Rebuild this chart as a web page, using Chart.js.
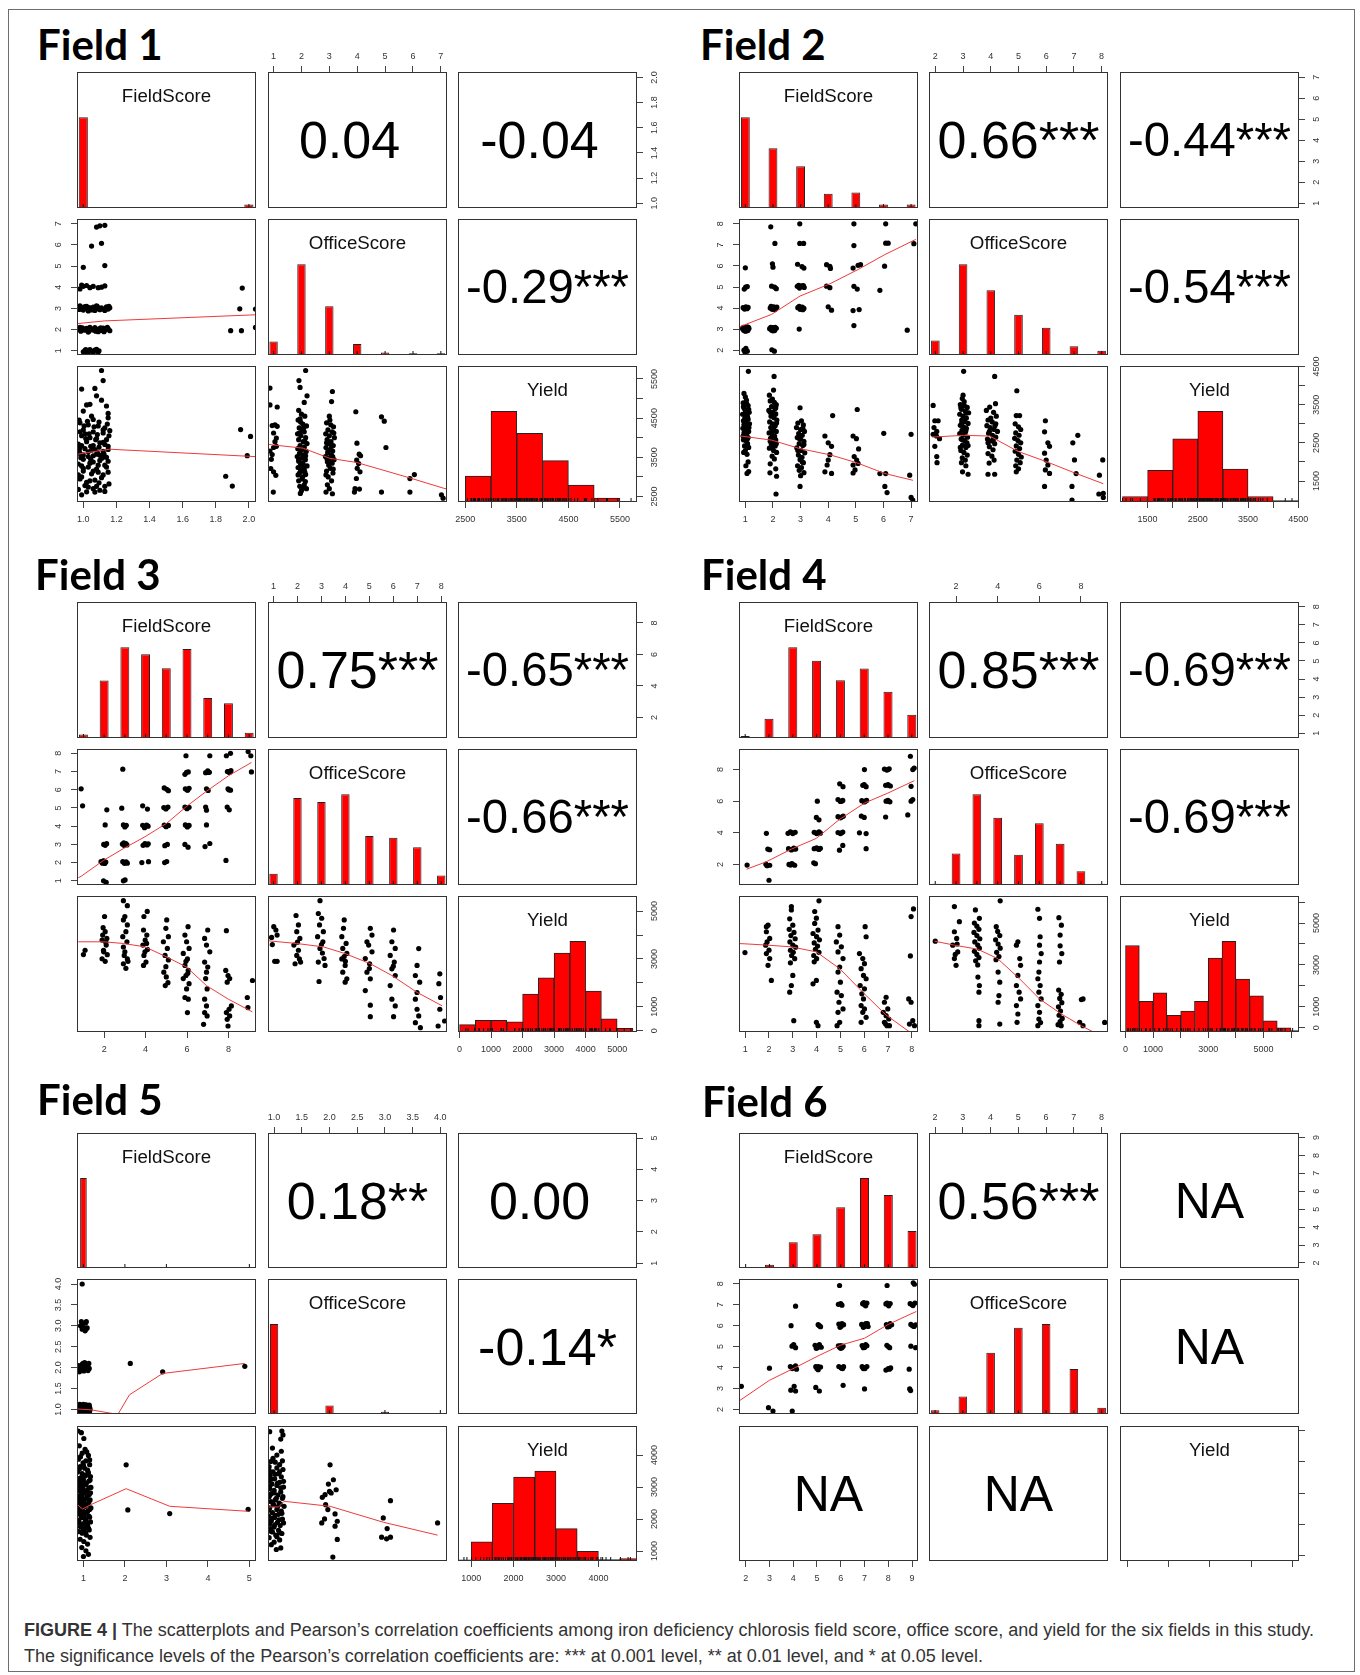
<!DOCTYPE html>
<html>
<head>
<meta charset="utf-8">
<title>Figure 4</title>
<script src="https://cdn.jsdelivr.net/npm/chart.js@4.4.1/dist/chart.umd.min.js"></script>
<style>
  html, body { margin: 0; padding: 0; background: #fff; }
  #stage { position: relative; width: 1360px; height: 1675px; overflow: hidden; background: #fff; }
  #stage canvas { position: absolute; }
  .frame { position: absolute; left: 8px; top: 9px; width: 1347px; height: 1663px; border: 1px solid #6e6e6e; box-sizing: border-box; }
  .title { position: absolute; font: 700 42px/1 Lato, 'Open Sans', sans-serif; color: #000; white-space: nowrap; }
  .corr { position: absolute; display: flex; align-items: center; justify-content: center; font: 52px/1 'Liberation Sans', Arial, sans-serif; color: #000; white-space: nowrap; z-index: 2; box-sizing: border-box; }
  .corr.ns { padding-right: 16px; }
  .dlab { position: absolute; text-align: center; font: 18.7px/1 'Liberation Sans', Arial, sans-serif; color: #111; z-index: 2; }
  .caption { position: absolute; left: 24px; top: 1617px; font: 18px/26px 'Liberation Sans', Arial, sans-serif; color: #333; white-space: nowrap; }
</style>
</head>
<body>
<div id="stage">
  <div class="frame"></div>
  <div class="caption"><b>FIGURE 4 |</b> The scatterplots and Pearson’s correlation coefficients among iron deficiency chlorosis field score, office score, and yield for the six fields in this study.<br>The significance levels of the Pearson’s correlation coefficients are: *** at 0.001 level, ** at 0.01 level, and * at 0.05 level.</div>
</div>
<script>
// ---------- Field 1 ----------
var f1FsLim = [0.962, 2.043], f1OsLim = [0.8, 7.22], f1YLim = [2360, 5830];
var f1FsTicks = [1.0, 1.2, 1.4, 1.6, 1.8, 2.0];
var f1OsTicks = [1, 2, 3, 4, 5, 6, 7];
var f1YTicks = [2500, 3000, 3500, 4000, 4500, 5000, 5500];
var f1YLabBottom = [2500, 3500, 4500, 5500], f1YLabSide = [2500, 3500, 4500, 5500];
var f1FsBars = [1, 2], f1FsCounts = [181, 7], f1FsBin = 0.055;
var f1OsBars = [1, 2, 3, 4, 5, 6, 7], f1OsCounts = [16, 108, 58, 13, 3, 2, 2], f1OsBin = 0.3;
var f1YBins = [2500, 3000, 3500, 4000, 4500, 5000, 5500], f1YCounts = [20, 70, 53, 32, 13, 3];
var f1Corr = ['0.04', '-0.04', '-0.29***'];
var f1FsOs = [[1.08,6.84],[1.10,6.9],[1.13,6.92],[1.05,5.94],[1.11,6.07],[1.0,4.94],[1.13,5.02],
  [0.98,3.92],[1.0,4.04],[1.02,4.08],[1.04,3.98],[1.06,4.04],[1.09,3.98],[1.13,4.06],[0.99,4.1],[1.11,4.0],
  [0.975,2.95],[0.99,3.05],[1.0,2.92],[1.01,3.08],[1.025,2.97],[1.035,3.04],[1.05,2.93],[1.06,3.06],[1.075,2.98],[1.085,3.08],[1.1,2.94],[1.11,3.03],[1.125,2.96],[1.14,3.07],[1.15,2.97],[1.16,3.03],[1.02,3.1],[1.07,2.9],
  [0.98,3.12],[1.03,2.88],[1.08,3.12],[1.13,2.9],[1.155,3.1],[1.045,3.0],[0.995,2.97],[1.095,3.0],
  [0.975,2.02],[0.985,1.92],[0.995,2.08],[1.01,1.97],[1.02,2.06],[1.035,1.93],[1.045,2.04],[1.06,1.98],[1.07,2.09],[1.085,1.94],[1.095,2.03],[1.11,1.96],[1.12,2.07],[1.135,1.99],[1.15,2.05],[1.16,1.95],[1.04,2.1],[1.09,1.9],
  [0.98,2.1],[1.03,1.88],[1.075,1.92],[1.125,1.9],[1.145,2.1],[1.0,2.0],[1.055,2.0],[1.105,2.08],
  [1.0,0.95],[1.015,1.05],[1.03,0.92],[1.04,1.06],[1.055,0.97],[1.07,1.03],[1.09,0.94],[1.02,0.88],[1.06,0.9],[1.08,1.07],[1.01,1.02],[1.095,1.0],
  [1.96,3.96],[1.945,2.98],[2.04,2.97],[1.89,1.95],[1.955,1.95],[2.04,2.1]];
var f1FsOsFit = [[0.962,2.28],[1.13,2.41],[2.043,2.7]];
var f1FsY = [[1.11,5715],[1.12,5457],[0.99,5241],[1.07,5258],[1.08,5070],[1.11,4957],[1.14,4810],[1.02,4836],[1.04,4853],[1.0,4680],[1.15,4620],[1.15,4508],[1.05,4550],[1.06,4465],
  [0.98,4380],[1.03,4330],[1.09,4300],[1.13,4250],[1.0,4200],[1.06,4150],[1.12,4120],[1.16,4180],[0.99,4050],[1.04,4000],[1.08,3980],[1.14,3950],[1.02,3900],[1.1,3870],[0.97,3840],[1.06,3800],[1.15,3780],[1.01,3720],[1.05,3680],[1.12,3650],[0.98,3600],[1.08,3580],[1.03,3520],[1.14,3500],[1.0,3450],[1.1,3420],[1.06,3380],[0.97,3330],[1.13,3300],[1.03,3250],[1.08,3200],[1.0,3150],[1.15,3120],[1.05,3080],[0.99,3000],[1.11,2980],[1.07,2920],[1.02,2860],
  [0.98,3750],[1.1,3550],[1.04,3350],[0.97,3050],[1.12,3880],[1.01,4100],[1.15,3400],[1.07,3700],[0.99,3280],[1.09,3120],
  [0.975,4450],[1.025,4420],[1.095,4400],[1.145,4350],[1.005,4300],[1.065,4280],[1.12,4200],[0.98,4150],[1.035,4100],[1.085,4080],[1.155,4050],[1.015,3980],[1.075,3950],[1.13,3830],[0.99,3800],[1.045,3780],[1.095,3760],[1.15,3700],[0.975,3680],[1.03,3640],[1.085,3620],[1.125,3580],[1.0,3560],[1.06,3540],[1.115,3480],[0.985,3490],[1.045,3450],[1.09,3300],[1.14,3250],[1.0,3220],[1.06,3150],[1.12,3050],[0.98,2950],[1.04,2900],[1.095,2850],[1.155,2820],[1.01,2780],[1.08,2760],[0.97,2680],[1.02,2620],
  [1.03,2741],[1.06,2700],[1.13,2760],[0.99,2543],[1.07,2612],[1.13,2629],[1.1,2660],
  [1.95,4207],[2.01,4034],[1.99,3543],[1.86,3017],[1.9,2767]];
var f1FsYFit = [[0.962,3578],[1.158,3707],[2.043,3517]];
var f1OsY = [[0.87,5267],[0.87,4836],[1.13,4784],[0.95,4310],[1.05,4330],[1.13,4290],[1.0,4120],[1.1,3990],[0.87,3660],[0.95,3570],[1.0,3750],[1.1,3780],[0.9,3215],[1.0,3130],[1.08,3040],[0.99,2612],[1.05,3900],[0.92,3450],
  [2.15,5715],[1.91,5457],[1.95,5284],[2.2,5070],[2.1,4900],[1.9,4700],[2.0,4600],[2.12,4550],[1.88,4450],[1.97,4400],[2.05,4350],[2.18,4300],[1.92,4250],[2.02,4200],[2.1,4150],[1.86,4100],[1.98,4050],[2.15,4000],[1.9,3950],[2.06,3900],[2.2,3850],[1.95,3800],[2.1,3760],[1.87,3720],[2.0,3680],[2.17,3650],[1.93,3600],[2.08,3560],[1.85,3520],[2.02,3480],[2.14,3440],[1.9,3400],[2.05,3360],[1.97,3320],[2.2,3280],[1.88,3240],[2.1,3200],[2.0,3150],[1.93,3100],[2.15,3060],[2.04,3000],[1.9,2900],[2.1,2800],[2.18,2700],[2.0,2650],[1.96,2580],
  [1.95,4480],[2.08,4250],[1.93,4120],[2.12,3900],[1.98,3700],[2.15,3540],[1.9,3450],[2.07,3300],[1.96,3200],[2.12,3120],[1.88,3050],[2.02,2950],[2.14,2880],[1.94,2760],[2.06,2720],
  [3.11,5180],[3.08,4922],[3.0,4551],[2.9,4380],[3.05,4330],[3.15,4280],[2.95,4200],[3.1,4150],[2.87,4100],[3.0,4050],[3.18,4000],[2.92,3950],[3.06,3900],[2.97,3850],[3.14,3800],[2.88,3750],[3.03,3700],[3.12,3660],[2.94,3610],[3.07,3560],[2.86,3520],[3.0,3480],[3.17,3440],[2.93,3390],[3.1,3350],[2.98,3300],[3.04,3220],[2.9,3150],[3.13,3100],[2.96,3000],[3.08,2900],[2.93,2800],[3.0,2700],[2.88,2612],[3.11,2570],
  [3.02,4450],[3.16,4120],[2.9,3870],[3.08,3780],[2.95,3660],[3.12,3520],[2.92,3460],[3.06,3380],[3.14,3200],[2.88,3050],
  [3.95,4663],[3.99,3862],[4.07,3580],[4.12,3540],[3.98,3430],[4.05,3340],[4.0,3220],[4.1,3130],[3.97,2960],[3.92,2700],[4.08,2690],[3.9,2612],
  [4.87,4534],[4.97,4422],[5.03,3750],[4.87,2612],[5.89,2957],[6.05,3060],[5.89,2612],[7.02,2543],[7.08,2457]];
var f1OsYFit = [[0.8,3830],[2.06,3733],[3.02,3474],[3.97,3370],[5.89,2974],[7.08,2715],[7.22,2690]];

// ---------- Field 2 ----------
var f2FsLim = [0.77, 7.25], f2OsLim = [1.77, 8.23], f2YLim = [950, 4515];
var f2FsTicks = [1, 2, 3, 4, 5, 6, 7];
var f2OsTicks = [2, 3, 4, 5, 6, 7, 8];
var f2YTicks = [1500, 2000, 2500, 3000, 3500, 4000, 4500];
var f2YLabBottom = [1500, 2500, 3500, 4500], f2YLabSide = [1500, 2500, 3500, 4500];
var f2FsBars = [1, 2, 3, 4, 5, 6, 7], f2FsCounts = [76, 50, 35, 12, 13, 3, 3], f2FsBin = 0.32;
var f2OsBars = [2, 3, 4, 5, 6, 7, 8], f2OsCounts = [10, 63, 45, 28, 19, 6, 3], f2OsBin = 0.31;
var f2YBins = [1000, 1500, 2000, 2500, 3000, 3500, 4000, 4500], f2YCounts = [4, 23, 46, 66, 24, 4, 1];
var f2Corr = ['0.66***', '-0.44***', '-0.54***'];
var f2FsOs = [[1.0,5.91],[1.01,4.99],[0.96,4.9],[1.07,5.02],[0.92,4.02],[0.97,3.95],[1.02,4.06],[1.06,3.97],[1.1,4.03],[0.9,3.02],[0.94,2.94],[0.98,3.06],[1.02,2.97],[1.05,3.05],[1.09,2.93],[1.13,3.03],[0.96,3.0],[1.0,2.9],[1.08,3.1],[0.95,2.0],[1.02,2.08],[1.07,1.95],[0.99,1.9],
  [0.93,3.08],[1.04,2.92],[1.11,3.08],[0.97,2.93],[1.06,3.1],
  [1.92,7.86],[2.07,7.07],[1.98,6.1],[2.0,5.94],[1.95,5.04],[2.06,4.99],[2.12,4.92],[1.9,4.0],[1.97,3.94],[2.03,4.06],[2.1,3.98],[2.14,4.04],[1.88,3.02],[1.95,2.95],[2.0,3.07],[2.06,2.93],[2.12,3.04],[1.99,3.0],[1.96,2.02],[2.05,1.95],
  [1.92,3.08],[2.08,3.08],[2.0,2.92],[1.93,4.08],[2.07,3.93],
  [2.97,8.0],[2.97,7.07],[3.11,7.07],[2.89,6.08],[3.05,5.97],[3.12,5.9],[2.88,5.03],[2.96,4.95],[3.04,5.06],[3.13,4.98],[2.9,4.02],[2.98,3.94],[3.06,4.05],[3.12,3.98],[2.95,3.0],
  [2.95,4.08],[3.08,3.92],[2.93,5.08],[3.1,5.07],
  [3.94,6.06],[4.06,5.98],[4.08,5.88],[3.94,5.04],[4.06,4.97],[4.0,4.06],[4.12,3.9],
  [4.93,8.0],[4.93,6.97],[4.9,5.9],[5.08,6.03],[5.17,6.06],[4.93,5.03],[5.05,4.9],[4.9,3.88],[5.12,3.93],[4.93,3.17],
  [6.08,8.0],[6.17,7.08],[6.08,7.08],[6.04,5.99],[5.87,4.84],
  [7.17,8.0],[7.1,7.06],[6.86,2.95]];
var f2FsOsFit = [[0.77,3.1],[1.95,3.7],[2.98,4.57],[4.06,5.15],[5.08,5.83],[6.05,6.54],[7.17,7.26]];
var f2FsY = [[1.11,4375],[0.95,3795],[1.0,3705],[0.92,3550],[1.05,3520],[1.1,3480],[0.96,3400],[1.02,3350],[1.14,3300],[0.9,3250],[1.05,3220],[0.98,3150],[1.1,3120],[0.93,3080],[1.02,3040],[1.15,3000],[0.97,2950],[1.07,2920],[0.91,2880],[1.0,2840],[1.12,2800],[0.95,2760],[1.05,2720],[0.99,2680],[1.1,2640],[0.93,2580],[1.03,2550],[1.08,2480],[0.97,2420],[1.12,2380],[1.0,2300],[0.94,2250],[1.06,2200],[1.1,2000],[1.02,1900],[1.06,1700],[1.12,1750],
  [1.04,3620],[0.93,3450],[1.12,3380],[0.99,3280],[1.08,3180],[0.95,2980],[1.13,2900],[1.03,2780],[0.92,2680],[1.07,2600],
  [2.04,4242],[2.02,3884],[1.87,3750],[1.9,3600],[2.05,3560],[2.12,3500],[1.95,3450],[2.08,3400],[1.85,3350],[2.0,3300],[2.1,3260],[1.93,3200],[2.04,3160],[2.14,3100],[1.88,3050],[1.98,3000],[2.08,2950],[1.92,2900],[2.02,2860],[2.12,2800],[1.86,2760],[1.97,2720],[2.06,2680],[1.91,2620],[2.1,2580],[2.0,2530],[1.94,2470],[2.08,2420],[1.87,2360],[2.02,2300],[2.13,2250],[1.97,2150],[2.05,2080],[1.9,1950],[2.1,1820],[1.89,1714],[2.13,1625],[2.11,1160],
  [1.98,3650],[2.1,3420],[1.9,3300],[2.03,3220],[2.13,3020],[1.95,2780],[2.05,2640],[1.9,2540],[2.12,2480],[2.0,2400],
  [2.98,3420],[3.03,3080],[2.9,3020],[3.1,2970],[2.85,2900],[3.0,2850],[3.14,2800],[2.93,2740],[3.06,2700],[2.88,2640],[3.0,2600],[3.12,2540],[2.95,2480],[3.08,2430],[2.86,2370],[3.02,2300],[3.15,2240],[2.92,2180],[3.05,2120],[2.98,2060],[3.1,1980],[2.89,1900],[3.03,1850],[2.95,1780],[3.12,1720],[3.0,1640],[2.98,1357],
  [3.08,2880],[2.94,2620],[3.12,2460],[2.9,2300],[3.06,2000],
  [4.16,3215],[3.88,2680],[4.0,2500],[4.12,2410],[4.06,2190],[4.0,2050],[3.96,1920],[4.12,1700],[3.88,1740],
  [5.05,3375],[4.9,2680],[5.02,2610],[5.1,2340],[4.94,2140],[5.03,2050],[4.9,1920],[5.08,1960],[4.97,1790],[4.9,1710],
  [6.01,2750],[5.87,1696],[6.08,1696],[6.05,1357],[6.13,1196],
  [7.0,2723],[6.95,1652],[7.0,1070],[7.06,1000]];
var f2FsYFit = [[0.77,2685],[1.95,2572],[2.98,2348],[4.06,2188],[5.02,1982],[6.05,1696],[7.07,1518]];
var f2OsY = [[1.92,3482],[1.98,3080],[2.1,3080],[1.95,2900],[2.05,2800],[1.92,2723],[2.04,2680],[2.15,2610],[1.98,2410],[2.05,2140],[2.06,1982],
  [3.02,4375],[3.0,3750],[2.97,3660],[2.9,3500],[3.05,3470],[3.15,3430],[2.94,3380],[3.08,3330],[3.2,3290],[2.88,3250],[3.0,3200],[3.12,3150],[2.95,3100],[3.06,3060],[3.18,3010],[2.9,2960],[3.02,2920],[3.12,2880],[2.96,2830],[3.08,2780],[2.88,2740],[3.0,2700],[3.16,2650],[2.93,2600],[3.06,2560],[3.14,2500],[2.98,2440],[3.1,2380],[2.92,2300],[3.03,2250],[3.15,2180],[2.97,2110],[3.08,2050],[2.94,1980],[3.1,1900],[2.98,1741],[3.18,1678],
  [3.04,3580],[2.92,3420],[3.12,3280],[2.95,3020],[3.1,2820],[2.98,2580],[3.18,2430],[2.9,2380],
  [4.14,4242],[4.17,3527],[3.96,3438],[3.84,3350],[4.1,3300],[4.2,3200],[3.9,3100],[4.05,3050],[4.18,3000],[3.86,2950],[3.98,2900],[4.12,2850],[4.24,2800],[3.92,2750],[4.06,2700],[4.18,2650],[3.88,2600],[4.02,2550],[4.14,2480],[3.95,2400],[4.08,2320],[3.9,2220],[4.04,2150],[4.12,2050],[3.94,1970],[3.9,1678],[4.14,1678],
  [4.0,3150],[4.15,2950],[3.95,2800],[4.1,2600],[3.9,2500],
  [4.94,3866],[4.92,3215],[5.04,3215],[4.88,3000],[5.0,2920],[5.08,2850],[4.9,2760],[5.02,2700],[4.86,2620],[4.98,2560],[5.08,2500],[4.92,2420],[5.04,2350],[4.88,2280],[5.0,2200],[5.1,2130],[4.94,2050],[5.06,1980],[4.9,1900],[5.0,1820],[4.92,1740],
  [5.97,3080],[5.94,2790],[6.06,2500],[6.12,2410],[5.94,2230],[6.0,2050],[6.06,1920],[5.97,1790],[6.12,1700],[5.94,1357],
  [7.14,2697],[6.96,2500],[7.02,2054],[7.08,1696],[6.93,1357],[6.93,1000],
  [8.04,2054],[7.92,1652],[7.9,1160],[8.06,1180],[8.06,1070]];
var f2OsYFit = [[1.89,2652],[3.0,2697],[3.96,2679],[4.98,2277],[6.0,2009],[7.02,1714],[8.06,1429]];

// ---------- Field 3 ----------
var f3FsLim = [0.69, 9.33], f3OsLim = [0.77, 8.24], f3YLim = [-50, 5630];
var f3FsTicks = [2, 4, 6, 8];
var f3OsTicks = [1, 2, 3, 4, 5, 6, 7, 8];
var f3YTicks = [0, 1000, 2000, 3000, 4000, 5000];
var f3YLabBottom = [0, 1000, 2000, 3000, 4000, 5000], f3YLabSide = [0, 1000, 3000, 5000];
var f3FsBars = [1, 2, 3, 4, 5, 6, 7, 8, 9], f3FsCounts = [2, 33, 52, 48, 40, 51, 23, 20, 3], f3FsBin = 0.43;
var f3OsBars = [1, 2, 3, 4, 5, 6, 7, 8], f3OsCounts = [6, 46, 44, 48, 26, 25, 20, 5], f3OsBin = 0.35;
var f3YBins = [0, 500, 1000, 1500, 2000, 2500, 3000, 3500, 4000, 4500, 5000, 5500], f3YCounts = [5, 8, 8, 7, 26, 37, 54, 62, 28, 9, 2.5];
var f3Corr = ['0.75***', '-0.65***', '-0.66***'];
var f3FsOs = [[0.89,6.05],[0.96,5.12],
  [1.85,2.05],[1.92,1.97],[1.98,2.1],[2.03,1.95],[2.08,2.03],[1.97,1.0],[2.1,0.92],[2.13,4.9],[2.05,4.07],[1.98,3.0],[2.05,2.95],[2.12,3.04],[2.0,2.0],[1.95,2.08],
  [2.9,7.13],[2.85,4.99],[2.93,4.07],[3.07,4.05],[3.0,3.96],[2.88,3.02],[2.96,2.95],[3.05,3.05],[3.1,2.97],[2.9,2.05],[2.98,1.96],[3.06,2.04],[3.12,1.97],[2.93,1.0],[3.01,1.05],
  [3.0,3.0],[2.95,3.08],[3.02,2.0],[3.02,4.02],
  [3.86,5.12],[4.09,4.94],[3.86,4.05],[3.95,3.97],[4.05,4.06],[4.12,4.0],[3.88,2.95],[3.97,3.05],[4.07,2.97],[4.13,3.03],[3.82,2.0],[4.14,2.05],[4.0,4.0],[3.95,3.92],[4.02,3.0],
  [4.9,6.1],[5.02,6.03],[5.1,5.95],[4.88,5.02],[4.98,4.95],[5.08,5.05],[4.9,4.06],[4.99,3.97],[5.1,4.04],[5.05,3.0],[4.93,2.93],[5.02,2.06],[4.92,2.0],[5.0,5.0],[5.0,4.0],
  [5.95,7.87],[5.98,6.96],[5.9,6.85],[6.06,6.98],[5.92,6.05],[6.03,5.98],[6.1,6.08],[5.9,5.05],[6.0,4.96],[6.1,5.04],[5.92,4.07],[6.02,3.96],[6.1,4.04],[5.9,3.0],[6.05,2.85],[6.0,6.0],[6.0,4.0],[6.0,5.0],
  [7.1,7.87],[6.9,6.94],[7.0,7.04],[7.08,6.96],[6.94,6.05],[7.02,5.96],[6.9,5.05],[6.94,4.88],[6.94,4.07],[6.87,2.88],[7.1,3.05],[7.0,6.95],
  [7.9,7.87],[8.1,8.0],[7.95,7.0],[8.05,6.95],[8.12,7.05],[7.98,6.05],[8.1,5.98],[7.94,5.05],[8.04,4.9],[7.88,2.12],[8.0,7.0],[8.02,6.0],
  [8.95,8.1],[9.08,7.87],[9.11,6.98]];
var f3FsOsFit = [[0.75,1.17],[0.89,1.25],[1.97,2.12],[2.93,2.77],[3.97,3.42],[5.02,4.16],[5.98,5.09],[6.94,5.92],[7.99,6.76],[9.11,7.5]];
var f3FsY = [[1.0,3182],[1.08,3365],
  [2.02,4773],[1.95,4308],[2.05,4140],[2.13,3860],[1.9,3790],[2.1,3580],[1.97,3365],[2.15,3180],[1.9,3010],[2.05,2900],[1.98,3300],[2.08,3700],[1.93,4000],
  [2.93,5435],[3.12,5224],[3.0,4773],[2.93,4632],[3.12,4420],[3.05,4140],[2.9,3930],[3.1,3720],[2.93,3500],[3.0,3300],[3.12,3000],[2.93,2800],[3.05,2610],[3.15,2900],[2.97,3150],
  [3.92,4773],[4.08,4984],[3.9,4210],[4.06,4000],[3.98,3790],[3.87,3580],[4.09,3400],[3.92,3150],[4.02,2870],[3.9,2730],[4.05,3650],[3.97,3300],
  [5.02,4632],[4.98,4280],[5.1,3930],[4.86,3720],[5.05,3440],[4.94,3150],[5.1,2960],[4.98,2680],[4.88,2450],[5.08,2010],[4.95,1890],[5.0,2250],
  [6.05,4350],[5.9,4000],[5.98,3720],[6.1,3440],[5.82,3230],[6.02,3000],[5.9,2730],[6.06,2530],[5.95,2310],[5.82,2180],[6.1,1970],[5.98,1750],[5.9,1390],[6.06,1320],[6.02,760],[5.95,2900],[6.04,2400],
  [7.0,4210],[6.85,3860],[6.94,3580],[7.1,3300],[6.85,2870],[7.0,2660],[6.94,2450],[6.9,2180],[6.97,1750],[6.85,1320],[6.94,1040],[6.85,760],[6.97,620],[6.8,270],
  [7.9,4182],[7.87,2520],[7.98,2310],[8.06,2180],[7.94,2030],[8.14,1040],[8.03,900],[7.9,760],[8.06,620],[7.94,480],[7.98,200],
  [9.16,2100],[8.91,1390],[8.94,970]];
var f3FsYFit = [[0.75,3717],[1.97,3717],[2.93,3647],[3.97,3506],[5.02,3084],[5.98,2661],[6.94,1887],[7.99,1324],[9.16,788]];
var f3OsY = [[1.01,4350],[1.1,4210],[1.15,4000],[0.92,3900],[1.05,2900],[1.15,2900],[0.95,3600],
  [1.94,4815],[2.04,4420],[1.97,4140],[2.1,3860],[1.85,3580],[2.04,3365],[1.97,3150],[2.13,2870],[1.9,2800],[2.0,3700],[2.08,3000],
  [2.94,5435],[2.87,4900],[3.01,4700],[2.92,4420],[3.08,4140],[2.84,3930],[3.06,3720],[2.94,3440],[3.11,3020],[2.87,2870],[3.15,2730],[2.9,2060],[3.0,3600],[3.04,3250],
  [3.95,4632],[3.92,4280],[3.85,3930],[4.03,3650],[3.89,3440],[4.06,3230],[3.85,3000],[3.99,2730],[3.89,2450],[4.06,2170],[3.99,2030],[3.95,3100],[4.0,2900],
  [5.04,4280],[5.11,4000],[4.9,3720],[4.97,3580],[5.11,3300],[4.83,3020],[5.01,2800],[4.9,2450],[5.04,2170],[4.83,1680],[5.04,1070],[5.04,590],[5.0,2600],
  [6.01,4210],[5.94,3720],[6.08,3440],[5.87,3150],[6.04,2870],[5.94,2590],[6.08,2310],[5.87,1890],[5.94,1320],[6.08,1040],[6.01,590],[6.0,2700],
  [7.06,3435],[6.99,2730],[6.92,2310],[7.1,2030],[6.99,1600],[6.92,1320],[6.99,900],[7.06,620],[6.92,340],[7.13,130],
  [7.94,2380],[7.9,1970],[7.97,1390],[7.94,900],[7.87,200],[8.14,410]];
var f3OsYFit = [[0.77,3760],[1.96,3647],[3.08,3506],[3.99,3224],[5.04,2802],[5.94,2309],[6.99,1605],[8.04,1042]];

// ---------- Field 4 ----------
var f4FsLim = [0.74, 8.26], f4OsLim = [0.7, 9.3], f4YLim = [-200, 6290];
var f4FsTicks = [1, 2, 3, 4, 5, 6, 7, 8];
var f4OsTicks = [2, 4, 6, 8];
var f4YTicks = [0, 1000, 2000, 3000, 4000, 5000, 6000];
var f4YLabBottom = [0, 1000, 3000, 5000], f4YLabSide = [0, 1000, 3000, 5000];
var f4FsBars = [1, 2, 3, 4, 5, 6, 7, 8], f4FsCounts = [1, 10, 47, 40, 30, 36, 24, 12], f4FsBin = 0.38;
var f4OsBars = [1, 2, 3, 4, 5, 6, 7, 8, 9], f4OsCounts = [1, 23, 66, 49, 22, 45, 30, 10, 1], f4OsBin = 0.42;
var f4YBins = [0, 500, 1000, 1500, 2000, 2500, 3000, 3500, 4000, 4500, 5000, 5500, 6000, 6500], f4YCounts = [62, 22, 28, 12, 15, 22, 53, 65, 38, 26, 8, 3, 1];
var f4Corr = ['0.85***', '-0.69***', '-0.69***'];
var f4FsOs = [[1.08,1.96],
  [1.89,3.97],[1.95,2.97],[2.03,2.93],[1.87,2.02],[2.03,1.95],[2.0,1.0],[1.92,1.92],
  [2.8,3.97],[2.9,4.06],[3.0,3.95],[3.1,4.03],[2.82,3.0],[2.94,2.92],[3.04,3.04],[3.12,2.97],[2.84,2.0],[2.96,2.05],[3.08,1.95],[2.9,1.96],[3.0,4.0],[3.05,2.98],[3.0,2.0],
  [4.03,6.0],[3.99,4.97],[4.1,4.82],[3.9,4.03],[4.0,3.95],[4.1,4.06],[4.16,3.98],[3.9,3.0],[4.0,3.05],[4.1,2.95],[4.16,3.02],[3.88,2.1],[3.95,2.05],[4.05,4.0],[4.05,3.0],
  [4.97,7.1],[5.11,6.92],[4.9,6.1],[5.0,5.98],[5.1,6.05],[4.9,5.02],[5.0,4.95],[5.12,5.05],[4.9,4.02],[5.0,3.95],[5.1,4.05],[4.96,2.9],[5.1,3.2],[5.05,6.0],[5.05,5.0],[5.05,4.0],
  [6.01,8.0],[5.94,7.0],[6.08,6.92],[5.9,6.03],[6.0,5.95],[6.1,6.05],[5.88,5.06],[6.0,4.97],[5.8,4.0],[6.08,3.95],[6.08,3.0],[6.0,7.05],[6.05,6.0],
  [6.85,8.03],[6.95,7.97],[7.05,8.05],[6.9,7.0],[7.0,7.05],[7.1,6.96],[6.92,6.0],[7.0,6.05],[7.08,5.96],[6.9,5.0],[7.0,8.0],[7.02,7.0],[7.0,6.0],
  [7.94,8.84],[8.04,8.0],[8.1,8.1],[7.97,6.94],[8.04,6.1],[7.97,6.0],[7.83,5.13]];
var f4FsOsFit = [[1.06,1.7],[1.89,2.17],[2.94,2.97],[3.99,3.65],[4.94,4.82],[6.01,5.88],[6.99,6.51],[8.11,7.3]];
var f4FsY = [[0.99,3591],
  [1.89,4825],[1.96,4900],[1.89,4585],[2.03,4264],[1.86,3943],[2.0,3703],[1.89,3543],[2.03,3302],[1.96,2982],[2.1,2260],[1.92,4100],
  [2.94,5787],[2.94,5627],[2.87,5200],[3.0,4900],[2.85,4700],[3.05,4550],[2.92,4400],[3.1,4250],[2.88,4100],[3.0,3950],[3.12,3850],[2.9,3700],[3.02,3600],[2.95,3450],[3.08,3300],[2.9,3100],[3.0,2500],[2.94,2020],[2.87,1700],[3.04,340],
  [4.1,6059],[3.92,5550],[3.99,5230],[3.92,4980],[4.06,4665],[3.85,4500],[4.0,4350],[4.12,4200],[3.9,4050],[4.04,3900],[3.95,3750],[4.1,3600],[3.88,3450],[4.0,3300],[3.9,3150],[3.99,2260],[3.85,2100],[3.99,260],[4.06,100],
  [4.9,4825],[4.97,4424],[4.83,4100],[5.04,3863],[4.9,3623],[5.11,3302],[4.97,2902],[4.9,2660],[5.0,2180],[4.86,1700],[5.04,1540],[4.94,1220],[5.11,900],[4.9,740],[4.97,260],[4.86,100],
  [6.04,4825],[6.08,4345],[5.8,3543],[5.94,3302],[6.01,3062],[5.87,2821],[5.97,2500],[6.08,2340],[5.83,2020],[6.01,1860],[5.9,1620],[5.97,1380],[5.87,1060],[6.01,900],[5.94,740],[6.08,500],[5.87,260],
  [6.92,1459],[6.85,1220],[6.99,900],[6.8,740],[6.92,580],[7.03,420],[6.85,260],[6.96,100],[7.06,100],[6.9,180],
  [8.07,5675],[7.97,5306],[7.94,3430],[7.87,1380],[7.97,1220],[8.04,340],[7.9,180],[8.11,100]];
var f4FsYFit = [[0.74,4020],[0.99,4007],[1.96,3943],[2.94,3863],[3.99,3623],[4.97,2821],[5.94,1699],[6.92,609],[7.9,-192]];
var f4OsY = [[1.0,4136],
  [1.92,5787],[2.16,5065],[1.92,4585],[2.03,4264],[1.84,3943],[2.08,3623],[1.92,3302],[2.0,2982],[1.96,3500],[2.05,4000],
  [2.93,5627],[3.12,5226],[2.88,5000],[3.0,4850],[3.1,4700],[2.86,4550],[3.0,4400],[3.14,4250],[2.9,4100],[3.04,3950],[3.12,3800],[2.88,3650],[3.0,3500],[3.1,3350],[2.94,3200],[3.04,3000],[3.05,2420],[3.12,2020],[3.1,1700],[3.1,340],[3.1,100],
  [4.12,6059],[3.93,4825],[4.0,4600],[4.1,4400],[3.9,4200],[4.02,4000],[4.12,3800],[3.95,3600],[4.06,3400],[3.92,3250],[4.02,2660],[4.1,2180],[4.06,1540],[4.02,1220],[4.1,180],
  [4.97,4104],[4.9,3943],[5.06,3302],[5.1,2982],[4.97,2500],[4.9,2020],[5.03,1700],[5.1,1380],[4.9,1060],[4.97,660],[4.93,260],
  [5.93,5658],[6.01,5226],[6.04,4345],[6.01,3943],[6.09,3543],[6.01,3140],[5.98,2660],[5.93,2340],[6.04,2020],[5.98,1700],[6.09,1380],[5.93,1060],[6.01,740],[5.98,420],[5.93,100],[6.06,250],
  [6.94,5258],[7.06,4900],[7.0,4424],[7.0,3911],[7.08,3543],[6.97,3140],[6.93,1800],[7.05,1600],[6.98,1400],[7.08,1200],[6.92,1000],[7.02,800],[6.95,600],[7.1,450],[7.0,300],[6.9,150],[7.05,100],
  [8.02,1347],[8.1,1380],[7.94,260],[8.1,100],
  [9.14,256]];
var f4OsYFit = [[0.96,4136],[1.92,3943],[3.04,3751],[4.0,3302],[5.05,2340],[6.01,1379],[7.06,657],[8.02,96],[8.58,-192]];

// ---------- Field 5 ----------
var f5FsLim = [0.845, 5.16], f5OsLim = [0.89, 4.12], f5YLim = [690, 4910];
var f5FsTicks = [1, 2, 3, 4, 5];
var f5OsTicks = [1.0, 1.5, 2.0, 2.5, 3.0, 3.5, 4.0];
var f5YTicks = [1000, 2000, 3000, 4000];
var f5YLabBottom = [1000, 2000, 3000, 4000], f5YLabSide = [1000, 2000, 3000, 4000];
var f5FsBars = [1, 2, 3, 5], f5FsCounts = [225, 1, 1, 1], f5FsBin = 0.16;
var f5OsBars = [1, 2, 3, 4], f5OsCounts = [210, 20, 5, 1], f5OsBin = 0.15;
var f5YBins = [500, 1000, 1500, 2000, 2500, 3000, 3500, 4000, 4500, 5000], f5YCounts = [1, 16, 48, 70, 75, 27, 8, 1.2, 2];
var f5Corr = ['0.18**', '0.00', '-0.14*'];
var f5FsOs = [[0.97,4.0],[0.93,3.0],[0.99,3.05],[1.05,3.07],[0.97,2.92],[1.09,2.95],[1.04,2.88],[1.07,3.1],[0.95,3.1],[1.02,2.95],[1.06,2.92],
  [0.88,2.05],[0.93,1.95],[0.97,2.08],[1.01,1.92],[1.05,2.04],[1.09,1.97],[1.13,2.1],[0.9,1.9],[1.03,2.12],[1.11,1.93],[0.95,2.01],[1.07,2.0],
  [0.9,2.0],[0.99,2.1],[1.04,1.95],[1.1,2.05],[1.14,1.98],[0.96,1.93],
  [0.87,1.05],[0.9,0.95],[0.93,1.1],[0.96,1.0],[0.99,0.92],[1.02,1.06],[1.05,0.97],[1.08,1.1],[1.11,1.02],[1.14,0.94],[0.88,0.9],[0.94,1.03],[1.0,1.12],[1.06,0.9],[1.12,1.08],[0.91,1.12],[0.97,1.07],[1.03,1.0],[1.09,0.96],[1.15,1.05],
  [0.88,1.0],[0.91,1.04],[0.94,0.96],[0.97,1.1],[1.0,1.0],[1.03,1.08],[1.06,1.04],[1.09,1.08],[1.12,0.98],[1.15,0.96],[0.9,1.08],[0.96,0.94],[1.02,0.96],[1.08,0.94],[1.14,1.1],[0.86,0.96],[0.99,1.05],[1.05,1.11],[1.11,0.93],[1.16,1.0],
  [2.13,2.1],[2.91,1.9],[4.89,2.03]];
var f5FsOsFit = [[0.85,1.01],[1.18,0.99],[1.83,0.88],[2.11,1.35],[2.91,1.86],[4.89,2.1]];
var f5FsY = [[0.87,4754],[0.95,4700],[1.01,4520],[0.9,4290],[1.04,4180],[0.97,4060],[1.12,3990],[0.88,3870],[1.06,3820],[0.99,3760],[1.15,3700],[0.92,3640],[1.03,3590],[1.1,3530],[0.86,3470],[0.97,3420],[1.07,3380],[1.17,3330],[0.91,3270],[1.0,3230],[1.13,3190],[0.95,3140],[1.05,3080],[0.88,3030],[1.18,2990],[0.99,2950],[1.09,2900],[0.93,2860],[1.02,2810],[1.14,2770],[0.87,2730],[0.96,2690],[1.06,2640],[1.16,2600],[0.9,2560],[1.01,2520],[1.11,2470],[0.94,2430],[1.04,2390],[0.86,2340],[1.15,2300],[0.98,2260],[1.08,2220],[0.91,2170],[1.02,2130],[1.13,2090],[0.95,2040],[1.05,1990],[0.88,1950],[1.17,1910],[1.0,1860],[1.1,1810],[0.93,1760],[1.03,1710],[1.14,1660],[0.89,1610],[0.97,1560],[1.07,1500],[1.16,1430],[0.92,1370],[1.01,1300],[1.1,1220],[0.96,1110],[1.06,1010],[1.12,900],[1.0,830],
  [1.08,4100],[0.93,3950],[1.15,3850],[1.0,3680],[0.9,3560],[1.12,3450],[1.04,3350],[0.95,3300],[1.16,3220],[0.87,3180],[1.07,3120],[0.98,3050],[1.13,2980],[0.91,2920],[1.03,2870],[1.17,2820],[0.96,2750],[1.09,2700],[0.89,2620],[1.0,2580],[1.13,2530],[0.93,2480],[1.07,2440],[0.98,2380],[1.18,2350],[0.88,2280],[1.1,2240],[1.0,2180],[0.94,2100],[1.15,2060],[1.06,1940],[0.9,1880],[1.12,1720],[0.99,1650],[1.05,1580],
  [2.03,3696],[2.07,2286],[3.08,2172],[4.97,2307]];
var f5FsYFit = [[0.85,2452],[0.98,2317],[1.18,2452],[2.03,2950],[3.08,2400],[4.97,2244]];
var f5OsY = [[0.92,4733],[1.14,4754],[1.16,4630],[1.12,4500],[0.97,4220],[1.13,4120],[0.94,3800],[1.02,3780],[1.1,3700],[0.91,3640],[1.05,3600],[1.16,3550],[0.98,3480],[1.08,3420],[0.93,3370],[1.13,3320],[1.01,3260],[0.9,3200],[1.1,3150],[0.96,3100],[1.05,3050],[1.17,3000],[0.92,2950],[1.0,2900],[1.12,2850],[0.95,2800],[1.07,2750],[0.91,2700],[1.15,2650],[1.02,2600],[0.94,2550],[1.09,2500],[0.99,2450],[1.18,2400],[0.92,2350],[1.05,2300],[1.13,2250],[0.97,2200],[1.08,2150],[0.9,2100],[1.01,2050],[1.15,2000],[0.95,1950],[1.06,1900],[0.92,1850],[1.11,1800],[1.0,1750],[0.94,1700],[1.08,1650],[0.97,1600],[1.14,1550],[1.03,1500],[0.91,1420],[1.1,1350],[1.0,1280],[0.95,1200],[1.12,1100],[1.04,1050],
  [1.05,4000],[0.98,3900],[1.15,3820],[0.91,3520],[1.1,3480],[1.02,3400],[0.95,3250],[1.17,3180],[1.06,3120],[0.92,3030],[1.12,2980],[1.0,2820],[0.93,2760],[1.16,2700],[1.04,2650],[0.97,2520],[1.11,2470],[1.06,2380],[0.9,2280],[1.14,2180],[1.02,2120],[0.96,2020],[1.09,1980],[1.17,1880],[1.01,1820],[0.93,1620],[1.1,1580],[1.05,1450],
  [2.01,3696],[1.98,3095],[2.07,3230],[2.0,2866],[1.92,2763],[2.03,2815],[2.12,2918],[1.87,2680],[1.93,2452],[1.97,2296],[1.91,2006],[2.1,2161],[2.14,1933],[2.1,1778],[1.86,1881],[2.14,1363],[2.06,813],
  [2.97,2037],[3.1,2576],[3.04,1705],[2.94,1436],[3.03,1384],[3.1,1436],[3.95,1881]];
var f5OsYFit = [[0.9,2379],[1.08,2379],[1.18,2556],[2.01,2400],[2.97,1902],[3.95,1498]];

// ---------- Field 6 ----------
var f6FsLim = [1.72, 9.25], f6OsLim = [1.78, 8.23], f6YLim = [-0.17, 4.15];
var f6FsTicks = [2, 3, 4, 5, 6, 7, 8, 9];
var f6OsTicks = [2, 3, 4, 5, 6, 7, 8];
var f6YTicks = [0, 1, 2, 3, 4];
var f6YLabBottom = [], f6YLabSide = [];
var f6FsBars = [2, 3, 4, 5, 6, 7, 8, 9], f6FsCounts = [1, 3, 23, 30, 54, 80, 65, 33], f6FsBin = 0.38;
var f6OsBars = [2, 3, 4, 5, 6, 7, 8], f6OsCounts = [3, 14, 49, 69, 72, 36, 5], f6OsBin = 0.31;
var f6YBins = [], f6YCounts = [];
var f6Corr = ['0.56***', 'NA', 'NA'];
var f6FsOs = [[1.82,3.1],[3.0,3.97],[2.96,2.08],[3.15,1.92],
  [3.91,6.0],[4.1,6.93],[4.02,5.1],[4.1,4.95],[3.88,4.05],[3.96,3.95],[4.05,4.02],[4.14,3.92],[4.04,3.1],[3.9,2.92],[4.1,2.88],[3.96,1.92],[3.95,5.02],[4.0,4.0],[4.1,4.08],
  [5.05,6.05],[5.15,5.95],[4.92,5.06],[5.02,4.95],[5.12,5.04],[5.18,4.97],[4.95,4.04],[5.05,3.9],[5.15,4.02],[4.95,3.05],[5.1,2.88],[5.1,6.0],[5.0,5.0],[5.1,5.1],[4.97,4.92],[5.05,4.05],[5.0,3.95],
  [5.95,7.92],[5.9,7.02],[6.05,6.98],[5.92,6.08],[6.02,5.97],[6.12,6.05],[5.9,5.04],[6.0,4.92],[6.1,5.02],[5.92,4.05],[6.04,3.96],[6.12,4.04],[6.1,3.15],
  [6.0,7.05],[6.0,6.0],[6.05,6.1],[5.97,5.92],[6.0,5.05],[6.05,4.95],[5.95,4.97],[6.0,4.0],[6.08,3.95],
  [6.92,7.05],[7.05,6.95],[7.1,7.08],[6.88,6.06],[6.98,5.95],[7.08,6.04],[7.15,5.96],[6.9,5.05],[7.0,4.96],[7.1,5.04],[6.9,4.04],[7.02,3.95],[7.1,4.05],[7.0,2.98],
  [7.0,7.0],[6.97,7.1],[7.0,6.0],[7.05,6.1],[6.95,5.92],[7.12,6.1],[7.0,5.0],[7.05,5.1],[6.95,4.95],[7.0,4.0],[6.95,3.95],
  [7.95,7.92],[7.9,7.04],[8.02,6.95],[8.08,7.06],[7.92,6.05],[8.04,5.96],[8.14,6.04],[7.94,5.06],[8.06,4.95],[8.0,3.95],[7.9,3.88],[8.1,3.98],
  [8.0,7.0],[7.95,7.08],[8.0,6.0],[8.08,6.1],[7.97,5.94],[8.0,5.0],[8.05,3.92],
  [9.05,8.05],[9.1,7.98],[8.92,7.05],[9.04,6.96],[9.12,7.08],[8.95,6.06],[9.08,5.96],[9.15,6.04],[8.95,5.02],[9.15,4.95],[8.88,3.92],[8.9,2.98],[8.94,2.9],[9.0,7.0],[9.02,6.0]];
var f6FsOsFit = [[1.72,2.4],[3.0,3.39],[4.09,4.0],[5.09,4.58],[6.0,5.07],[7.0,5.4],[8.0,6.06],[9.18,6.68]];

var varNames = ['FieldScore', 'OfficeScore', 'Yield'];

// ---------- layout ----------
var COLS = [[77, 268, 458], [739, 929, 1120]];
var ROWS = [[72, 219, 366], [602, 749, 896], [1133, 1279, 1426]];
var PW = 179, PH = [136, 136, 135];
var TITLE_AT = [[37, 60], [700, 60], [35, 590], [701, 590], [37, 1115], [702, 1117]];
var M = 40;
var CORR_MAXW = 163;
var TICK_FONT = { family: "'Liberation Sans', Arial, sans-serif", size: 9 };
var stage = document.getElementById('stage');

var mctx = document.createElement('canvas').getContext('2d');
function textW(s, font) { mctx.font = font; return mctx.measureText(s).width; }
function widest(strs) {
  var w = 0;
  strs.forEach(function(s) { w = Math.max(w, textW(s, "9px 'Liberation Sans', Arial, sans-serif")); });
  return w;
}
function P(a) { return a.map(function(p) { return { x: p[0], y: p[1] }; }); }
function mids(edges) { return edges.slice(0, -1).map(function(e, k) { return (e + edges[k + 1]) / 2; }); }

function variable(lim, ticks, labB, labS) {
  return { lim: lim, ticks: ticks, labB: labB || ticks, labS: labS || ticks };
}

function makeField(k) {
  var n = k + 1, g = function(s) { return window['f' + n + s]; };
  var yb = g('YBins');
  return {
    title: 'Field ' + n,
    vars: [variable(g('FsLim'), g('FsTicks')), variable(g('OsLim'), g('OsTicks')),
           variable(g('YLim'), g('YTicks'), g('YLabBottom'), g('YLabSide'))],
    hists: [
      { x: g('FsBars'), n: g('FsCounts'), bw: g('FsBin'), rug: g('FsBars') },
      { x: g('OsBars'), n: g('OsCounts'), bw: g('OsBin'), rug: g('OsBars') },
      { x: yb.length ? mids(yb) : [], n: g('YCounts'), bw: 1, rug: g('FsY') ? g('FsY').map(function(p) { return p[1]; }) : [] }
    ],
    scatter: {
      '10': [g('FsOs'), g('FsOsFit')],
      '20': g('FsY') ? [g('FsY'), g('FsYFit')] : 'NA',
      '21': g('OsY') ? [g('OsY'), g('OsYFit')] : 'NA'
    },
    corr: { '01': g('Corr')[0], '02': g('Corr')[1], '12': g('Corr')[2] }
  };
}

function axis(v, pos, isX) {
  var labs = isX ? v.labB : v.labS;
  var dec = v.ticks.some(function(t) { return !Number.isInteger(t); }) ? 1 : 0;
  var fmt = function(t) { return labs.indexOf(t) >= 0 ? t.toFixed(dec) : ''; };
  var o = {
    type: 'linear', min: v.lim[0], max: v.lim[1], display: !!pos, offset: false,
    position: pos || (isX ? 'bottom' : 'left'),
    afterBuildTicks: function(s) { s.ticks = v.ticks.map(function(t) { return { value: t }; }); },
    grid: { offset: false, drawOnChartArea: false, drawTicks: true, tickLength: 6, tickWidth: 1, tickColor: '#444' },
    border: { display: false },
    ticks: { autoSkip: false, font: TICK_FONT, color: '#333', callback: function(val) { return fmt(val); } }
  };
  if (isX) {
    if (pos) o.afterFit = function(s) { s.height = M; };
    o.ticks.minRotation = 0; o.ticks.maxRotation = 0;
    o.ticks.padding = pos === 'top' ? 4.5 : 6.5;
  } else {
    if (pos) o.afterFit = function(s) { s.width = M; };
    o.ticks.minRotation = 90; o.ticks.maxRotation = 90;
    o.ticks.crossAlign = 'center';
    o.ticks.padding = 12 - widest(v.ticks.map(fmt)) / 2;
  }
  return o;
}

var boxPlugin = {
  id: 'box',
  afterDatasetsDraw: function(chart) {
    var a = chart.chartArea, ctx = chart.ctx;
    ctx.save();
    ctx.strokeStyle = '#333';
    ctx.lineWidth = 1;
    ctx.strokeRect(a.left + 0.5, a.top + 0.5, a.right - a.left - 1, a.bottom - a.top - 1);
    ctx.restore();
  }
};

function histSets(h) {
  return [
    { type: 'bar', yAxisID: 'yc', data: h.x.map(function(v, k) { return { x: v, y: h.n[k] }; }),
      backgroundColor: '#ff0000', borderColor: '#222', borderWidth: 1, borderSkipped: false,
      barPercentage: h.bw, categoryPercentage: 1, order: 2 },
    { type: 'scatter', yAxisID: 'yc', data: h.rug.map(function(v) { return { x: v, y: 0 }; }),
      pointStyle: 'line', pointRotation: 90, pointRadius: 4, pointBorderColor: '#111', pointBorderWidth: 1, order: 1 }
  ];
}

function scatterSets(s) {
  return [
    { type: 'scatter', data: P(s[0]), pointRadius: 2.6, pointBackgroundColor: '#000', pointBorderWidth: 0, order: 2 },
    { type: 'line', data: P(s[1]), borderColor: '#ee3a3a', borderWidth: 1, pointRadius: 0, tension: 0, fill: false, order: 1 }
  ];
}

function panel(px, py, w, h, xPos, yPos, scales, datasets) {
  var cv = document.createElement('canvas');
  cv.width = w + 2 * M; cv.height = h + 2 * M;
  cv.style.left = (px - M) + 'px'; cv.style.top = (py - M) + 'px';
  stage.appendChild(cv);
  new Chart(cv, {
    type: 'scatter',
    data: { datasets: datasets },
    options: {
      responsive: false, animation: false, devicePixelRatio: 1, events: [],
      layout: { padding: {
        left: yPos === 'left' ? 0 : M, right: yPos === 'right' ? 0 : M,
        top: xPos === 'top' ? 0 : M, bottom: xPos === 'bottom' ? 0 : M } },
      plugins: { legend: { display: false }, tooltip: { enabled: false } },
      scales: scales
    },
    plugins: [boxPlugin]
  });
}

function addDiv(cls, text, x, y, w, h) {
  var d = document.createElement('div');
  d.className = cls;
  d.textContent = text;
  d.style.left = x + 'px'; d.style.top = y + 'px';
  if (w != null) d.style.width = w + 'px';
  if (h != null) d.style.height = h + 'px';
  stage.appendChild(d);
  return d;
}

function addCorr(t, x, y, w, h) {
  var cls = 'corr', size = 52;
  if (t === 'NA') size = 50;
  else {
    if (t.indexOf('*') < 0) cls += ' ns';
    var tw = textW(t, "52px 'Liberation Sans', Arial, sans-serif");
    if (tw > CORR_MAXW) size = 52 * CORR_MAXW / tw;
  }
  var d = addDiv(cls, t, x, y, w, h);
  d.style.fontSize = size + 'px';
}

function buildField(k) {
  var F = makeField(k);
  var cols = COLS[k % 2], band = Math.floor(k / 2), rows = ROWS[band], ph = PH[band];
  addDiv('title', F.title, TITLE_AT[k][0], TITLE_AT[k][1] - 37);
  for (var i = 0; i < 3; i++) {
    for (var j = 0; j < 3; j++) {
      var xPos = (i === 2 && j !== 1) ? 'bottom' : ((i === 0 && j === 1) ? 'top' : null);
      var yPos = (j === 0 && i === 1) ? 'left' : ((j === 2 && i !== 1) ? 'right' : null);
      var scales = { x: axis(F.vars[j], xPos, true), y: axis(F.vars[i], yPos, false) };
      var datasets = [];
      var px = cols[j], py = rows[i];
      if (i === j) {
        var hh = F.hists[i];
        scales.yc = { type: 'linear', display: false, min: 0, max: 1.5 * Math.max.apply(null, [1].concat(hh.n)) };
        if (!xPos) {
          (function(xs) { scales.x.afterBuildTicks = function(s) { s.ticks = xs.map(function(v) { return { value: v }; }); }; })(hh.x);
        }
        datasets = histSets(hh);
        addDiv('dlab', varNames[i], px, py + 14.7, PW);
      } else if (i > j) {
        var s = F.scatter[i + '' + j];
        if (s === 'NA') addCorr('NA', px, py, PW, ph);
        else datasets = scatterSets(s);
      } else {
        addCorr(F.corr[i + '' + j], px, py, PW, ph);
      }
      panel(px, py, PW, ph, xPos, yPos, scales, datasets);
    }
  }
}

for (var k = 0; k < 6; k++) buildField(k);
</script>
</body>
</html>
